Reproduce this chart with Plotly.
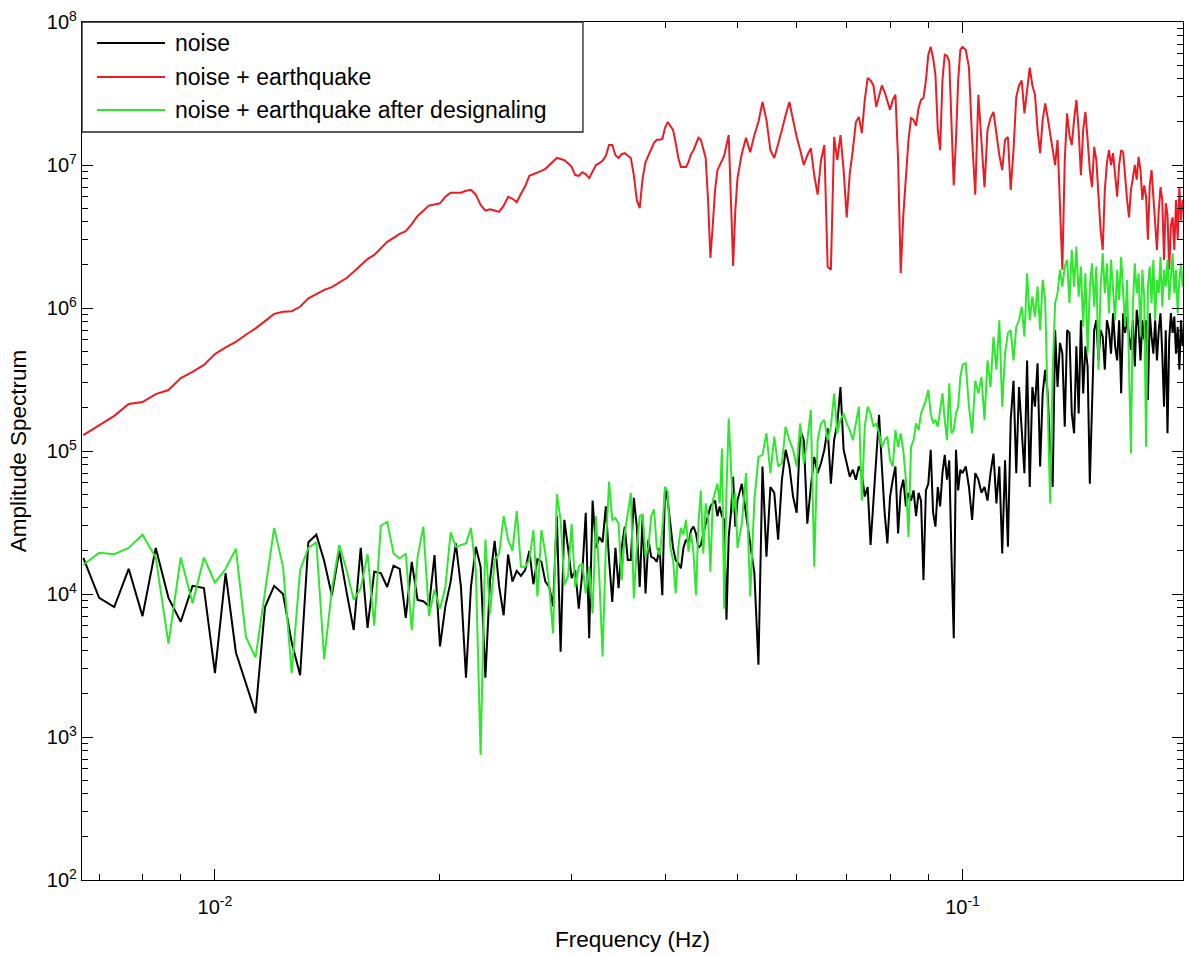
import numpy as np
import plotly.graph_objects as go

# Frequency grid: f = k / 3000 Hz (denser sampling kept at low frequency)
freq_index = np.concatenate([np.arange(20, 151), np.arange(152, 301, 2), np.arange(303, 592, 3)])
freq_hz = freq_index / 3000.0

noise = [
    # k = 20..150
    1.79e4, 9.4e3, 8.1e3, 1.5e4, 7.0e3, 2.1e4, 9.4e3, 6.4e3, 1.14e4, 1.1e4,
    2.8e3, 1.4e4, 3.9e3, 2.4e3, 1.47e3, 8.1e3, 1.14e4, 1.0e4, 4.6e3, 2.7e3,
    2.3e4, 2.6e4, 1.7e4, 9.8e3, 2.0e4, 1.03e4, 5.6e3, 2.1e4, 5.8e3, 1.43e4,
    1.4e4, 1.12e4, 1.58e4, 1.5e4, 6.8e3, 1.68e4, 9.1e3, 8.9e3, 8.2e3, 1.87e4,
    4.3e3, 8.2e3, 1.22e4, 2.26e4, 1.12e4, 2.6e3, 1.12e4, 2.14e4, 1.55e4, 2.6e3,
    1.25e4, 2.35e4, 1.12e4, 7.1e3, 1.89e4, 1.22e4, 1.45e4, 1.34e4, 1.47e4, 2.0e4,
    1.17e4, 1.75e4, 1.68e4, 1.22e4, 1.12e4, 8.2e3, 3.5e4, 3.95e3, 3.3e4, 2.1e4,
    1.29e4, 1.47e4, 7.9e3, 1.4e4, 3.7e4, 4.9e3, 4.5e4, 2.1e4, 2.5e4, 2.3e4,
    4.1e4, 1.73e4, 8.8e3, 2.1e4, 1.1e4, 2.1e4, 2.96e4, 1.73e4, 1.73e4, 4.7e4,
    2.96e4, 1.12e4, 3.5e4, 1.01e4, 2.4e4, 1.82e4, 1.78e4, 1.68e4, 2.1e4, 9.8e3,
    5.6e4, 4.5e4, 3.1e4, 2.1e4, 1.73e4, 1.64e4, 1.51e4, 2.1e4, 2.4e4, 2.26e4,
    2.8e4, 2.96e4, 2.65e4, 2.1e4, 2.2e4, 2.7e4, 3.1e4, 3.5e4, 4.1e4, 4.3e4,
    4.5e4, 3.5e4, 4.1e4, 3.5e4, 3.3e4, 6.6e3, 2.5e4, 3.7e4, 6.6e4, 2.96e4, 4.5e4,
    # k = 152..300 step 2
    5.9e4, 3.7e4, 2.4e4, 1.4e4, 3.2e3, 7.8e4, 1.82e4, 5.6e4, 5.1e4, 2.4e4,
    6.3e4, 1.02e5, 7.8e4, 4.8e4, 3.7e4, 1.4e5, 1.19e5, 3.1e4, 5.6e4, 9.1e4,
    7.0e4, 8.2e4, 1.02e5, 1.44e5, 5.9e4, 1.19e5, 1.56e5, 2.8e5, 1.02e5, 8.2e4,
    6.6e4, 7.4e4, 6.3e4, 7.8e4, 7.0e4, 4.8e4, 5.6e4, 2.2e4, 4.5e4, 7.8e4,
    1.79e5, 7.8e4, 3.7e4, 2.26e4, 4.8e4, 6.3e4, 7.8e4, 2.65e4, 5.3e4, 6.3e4,
    4.1e4, 5.1e4, 4.5e4, 5.3e4, 3.5e4, 5.1e4, 4.5e4, 1.25e4, 5.3e4, 5.9e4,
    1.02e5, 3.7e4, 2.96e4, 5.6e4, 4.1e4, 7.0e4, 9.4e4, 6.3e4, 8.6e4, 1.82e4,
    4.9e3, 1.02e5, 5.3e4, 7.4e4, 7.0e4,
    # k = 303..591 step 3
    7.8e4, 5.6e4, 3.3e4, 7.0e4, 6.3e4, 5.1e4, 5.6e4, 4.5e4, 7.0e4, 9.6e4,
    4.3e4, 7.8e4, 1.92e4, 8.6e4, 2.14e4, 1.65e5, 3.1e5, 7.0e4, 2.8e5, 1.26e5,
    7.0e4, 4.3e5, 5.6e4, 2.8e5, 2.04e5, 4.1e5, 7.8e4, 2.53e5, 3.7e5, 2.53e5,
    9.6e4, 5.6e4, 7.0e5, 2.8e5, 5.7e5, 4.8e5, 1.48e5, 7.0e5, 6.7e5, 1.83e5,
    1.33e5, 5.4e5, 1.83e5, 8.2e5, 2.53e5, 5.4e5, 3.9e5, 5.9e4, 2.53e5, 7.0e5,
    8.2e5, 4.3e5, 7.0e5, 6.3e5, 3.7e5, 8.2e5, 7.0e5, 4.8e5, 9.2e5, 5.4e5,
    4.3e5, 8.2e5, 2.53e5, 9.2e5, 6.7e5, 8.7e5, 6.3e5, 5.1e5, 8.2e5, 3.9e5,
    9.7e5, 7.4e5, 4.3e5, 8.2e5, 6.0e5, 8.2e5, 2.27e5, 9.2e5, 6.3e5, 4.8e5,
    8.2e5, 4.3e5, 7.0e5, 9.2e5, 4.8e5, 2.04e5, 7.0e5, 1.33e5, 6.0e5, 9.2e5,
    6.7e5, 8.7e5, 4.8e5, 7.4e5, 3.7e5, 8.2e5, 5.4e5,
]

noise_earthquake = [
    # k = 20..150
    1.29e5, 1.52e5, 1.76e5, 2.13e5, 2.2e5, 2.5e5, 2.67e5, 3.24e5, 3.57e5, 4.0e5,
    4.76e5, 5.3e5, 5.8e5, 6.5e5, 7.2e5, 8.1e5, 9.1e5, 9.4e5, 9.5e5, 1.02e6,
    1.17e6, 1.25e6, 1.34e6, 1.40e6, 1.50e6, 1.62e6, 1.79e6, 2.0e6, 2.2e6, 2.35e6,
    2.6e6, 2.9e6, 3.09e6, 3.3e6, 3.45e6, 3.86e6, 4.4e6, 4.8e6, 5.2e6, 5.3e6,
    5.4e6, 6.0e6, 6.4e6, 6.4e6, 6.4e6, 6.6e6, 6.7e6, 6.2e6, 5.25e6, 4.8e6,
    4.9e6, 4.8e6, 4.7e6, 5.2e6, 6.0e6, 5.8e6, 5.5e6, 6.3e6, 7.1e6, 8.4e6,
    8.6e6, 8.8e6, 9.1e6, 9.4e6, 1.0e7, 1.07e7, 1.12e7, 1.1e7, 1.08e7, 1.03e7,
    9.7e6, 8.5e6, 8.4e6, 8.9e6, 8.6e6, 8.1e6, 9.1e6, 1.0e7, 1.03e7, 1.07e7,
    1.16e7, 1.38e7, 1.38e7, 1.17e7, 1.12e7, 1.19e7, 1.21e7, 1.17e7, 1.12e7, 8.5e6,
    5.7e6, 5.0e6, 8.1e6, 1.05e7, 1.17e7, 1.31e7, 1.43e7, 1.5e7, 1.5e7, 1.52e7,
    1.82e7, 2.0e7, 1.88e7, 1.76e7, 1.43e7, 1.12e7, 9.7e6, 9.7e6, 9.7e6, 1.05e7,
    1.19e7, 1.27e7, 1.43e7, 1.55e7, 1.5e7, 1.27e7, 1.12e7, 5.7e6, 2.24e6, 3.8e6,
    6.7e6, 9.2e6, 1.0e7, 1.08e7, 1.16e7, 1.38e7, 1.62e7, 5.7e6, 1.97e6, 4.8e6, 8.1e6,
    # k = 152..300 step 2
    1.2e7, 1.55e7, 1.23e7, 1.62e7, 2.0e7, 2.76e7, 2.07e7, 1.27e7, 1.12e7, 1.38e7,
    1.76e7, 2.24e7, 2.76e7, 2.07e7, 1.57e7, 1.27e7, 1.0e7, 1.17e7, 1.31e7, 8.5e6,
    6.2e6, 1.08e7, 1.38e7, 1.94e6, 1.85e6, 1.57e7, 1.08e7, 1.62e7, 9.2e6, 4.3e6,
    8.8e6, 1.27e7, 2.0e7, 2.17e7, 1.67e7, 2.85e7, 4.06e7, 3.9e7, 3.6e7, 2.55e7,
    3.1e7, 3.6e7, 3.24e7, 2.85e7, 2.43e7, 2.85e7, 3.1e7, 1.08e7, 1.75e6, 4.5e6,
    8.5e6, 1.5e7, 2.13e7, 2.07e7, 1.88e7, 2.5e7, 2.85e7, 2.94e7, 3.9e7, 5.9e7,
    6.7e7, 5.6e7, 4.26e7, 1.76e7, 1.27e7, 3.9e7, 5.9e7, 5.8e7, 5.25e7, 1.76e7,
    7.2e6, 1.5e7, 3.9e7, 6.4e7, 6.7e7,
    # k = 303..591 step 3
    6.4e7, 4.8e7, 1.5e7, 6.2e6, 3.1e7, 1.5e7, 7.0e6, 1.76e7, 2.13e7, 2.35e7,
    1.62e7, 1.17e7, 9.2e6, 1.5e7, 1.57e7, 6.7e6, 1.27e7, 3.0e7, 3.6e7, 3.9e7,
    2.3e7, 3.3e7, 4.8e7, 3.6e7, 3.1e7, 1.76e7, 1.21e7, 2.07e7, 2.7e7, 2.13e7,
    1.62e7, 1.27e7, 1.0e7, 1.5e7, 5.7e6, 1.85e6, 1.08e7, 2.3e7, 1.62e7, 1.38e7,
    2.07e7, 2.85e7, 1.76e7, 8.5e6, 1.76e7, 2.35e7, 1.5e7, 9.2e6, 7.0e6, 1.34e7,
    1.08e7, 5.7e6, 3.5e6, 2.55e6, 6.7e6, 1.03e7, 1.27e7, 1.0e7, 1.21e7, 8.5e6,
    6.0e6, 1.0e7, 1.27e7, 1.23e7, 7.9e6, 5.7e6, 4.3e6, 6.7e6, 8.1e6, 1.0e7,
    7.9e6, 1.14e7, 9.2e6, 5.7e6, 7.2e6, 6.0e6, 3.0e6, 7.2e6, 9.2e6, 6.2e6,
    4.3e6, 2.55e6, 4.8e6, 7.0e6, 5.7e6, 2.17e6, 5.4e6, 4.5e6, 1.85e6, 3.8e6,
    4.3e6, 2.55e6, 5.7e6, 3.0e6, 7.0e6, 4.1e6, 5.7e6,
]

noise_earthquake_designaled = [
    # k = 20..150
    1.6e4, 1.94e4, 1.9e4, 2.1e4, 2.6e4, 1.8e4, 4.5e3, 1.8e4, 8.6e3, 1.8e4,
    1.2e4, 1.5e4, 2.07e4, 5.0e3, 3.6e3, 1.07e4, 2.9e4, 1.55e4, 2.8e3, 1.47e4,
    2.1e4, 2.3e4, 3.5e3, 1.07e4, 2.2e4, 1.47e4, 9.1e3, 1.1e4, 1.9e4, 6.0e3,
    3.0e4, 3.2e4, 1.92e4, 1.77e4, 1.92e4, 5.6e3, 1.82e4, 2.96e4, 7.0e3, 1.07e4,
    7.9e3, 1.12e4, 2.7e4, 2.14e4, 2.2e4, 2.26e4, 2.9e4, 1.47e4, 7.5e2, 2.4e4,
    7.3e3, 1.73e4, 1.92e4, 3.5e4, 2.4e4, 2.0e4, 3.8e4, 1.55e4, 1.55e4, 1.73e4,
    2.8e4, 9.6e3, 2.8e4, 1.92e4, 1.12e4, 5.3e3, 5.0e4, 3.3e4, 1.16e4, 1.32e4,
    3.1e4, 1.12e4, 1.55e4, 1.64e4, 1.01e4, 1.55e4, 7.3e3, 3.5e4, 1.32e4, 3.65e3,
    2.1e4, 6.1e4, 3.3e4, 3.4e4, 3.1e4, 1.25e4, 2.65e4, 3.7e4, 5.1e4, 9.3e3,
    2.1e4, 3.5e4, 3.6e4, 1.82e4, 2.1e4, 3.5e4, 3.9e4, 2.1e4, 1.87e4, 2.8e4,
    5.6e4, 5.2e4, 2.1e4, 1.73e4, 1.01e4, 2.1e4, 2.9e4, 2.6e4, 3.3e4, 1.98e4,
    2.65e4, 1.92e4, 9.8e3, 3.1e4, 5.3e4, 1.92e4, 4.3e4, 3.5e4, 1.43e4, 4.5e4,
    5.1e4, 5.9e4, 4.3e4, 1.04e5, 7.9e3, 5.3e4, 1.69e5, 8.6e4, 3.7e4, 5.1e4, 2.1e4,
    # k = 152..300 step 2
    3.1e4, 7.0e4, 9.6e3, 4.5e4, 9.1e4, 9.4e4, 1.33e5, 7.0e4, 1.26e5, 7.8e4,
    8.2e4, 1.48e5, 1.19e5, 1.02e5, 7.8e4, 1.56e5, 8.2e4, 1.19e5, 1.94e5, 1.55e4,
    1.19e5, 1.56e5, 1.65e5, 1.19e5, 1.48e5, 2.53e5, 1.33e5, 1.65e5, 1.83e5, 1.56e5,
    1.4e5, 1.19e5, 1.56e5, 2.04e5, 4.5e4, 1.48e5, 2.04e5, 1.83e5, 1.48e5, 1.56e5,
    1.33e5, 1.07e5, 1.19e5, 1.26e5, 8.6e4, 7.8e4, 1.4e5, 1.07e5, 1.33e5, 1.0e5,
    6.3e4, 2.5e4, 1.07e5, 1.19e5, 1.56e5, 1.4e5, 1.83e5, 2.04e5, 2.27e5, 2.67e5,
    1.83e5, 1.56e5, 1.65e5, 1.48e5, 2.04e5, 2.53e5, 1.65e5, 1.19e5, 2.97e5, 1.33e5,
    1.4e5, 1.83e5, 2.04e5, 3.3e5, 4.0e5,
    # k = 303..591 step 3
    4.1e5, 2.04e5, 1.33e5, 3.1e5, 2.53e5, 3.3e5, 1.65e5, 4.3e5, 2.8e5, 6.3e5,
    3.7e5, 8.2e5, 2.04e5, 4.8e5, 6.7e5, 7.0e5, 4.3e5, 7.4e5, 8.2e5, 1.02e6,
    6.3e5, 1.75e6, 8.2e5, 1.2e6, 8.7e5, 1.41e6, 7.0e5, 1.57e6, 1.14e6, 2.04e5,
    4.3e4, 3.7e5, 1.08e6, 1.27e6, 1.85e6, 1.41e6, 1.95e6, 2.17e6, 1.08e6, 2.55e6,
    1.41e6, 2.69e6, 1.2e6, 1.95e6, 7.4e5, 1.75e6, 4.8e5, 1.41e6, 2.05e6, 1.02e6,
    1.95e6, 3.7e5, 1.41e6, 2.41e6, 1.27e6, 2.05e6, 9.2e5, 2.17e6, 1.41e6, 8.2e5,
    1.85e6, 1.14e6, 2.28e6, 1.2e6, 7.4e5, 1.57e6, 4.8e5, 9.6e4, 1.08e6, 2.05e6,
    1.27e6, 1.75e6, 6.3e5, 1.85e6, 1.2e6, 1.07e5, 1.41e6, 1.95e6, 1.08e6, 2.17e6,
    8.2e5, 1.57e6, 1.27e6, 2.28e6, 1.02e6, 1.85e6, 1.41e6, 2.17e6, 1.14e6, 1.75e6,
    2.41e6, 1.27e6, 1.85e6, 9.2e5, 1.57e6, 2.05e6, 1.41e6,
]

series_names = ["noise", "noise + earthquake", "noise + earthquake after designaling"]
series_colors = ["#000000", "#ec1c24", "#2ee82e"]

x_tick_vals = [1e-2, 1e-1]
x_tick_text = ["10<sup>-2</sup>", "10<sup>-1</sup>"]
y_tick_vals = [1e2, 1e3, 1e4, 1e5, 1e6, 1e7, 1e8]
y_tick_text = ["10<sup>%d</sup>" % e for e in range(2, 9)]

assert len(noise) == len(freq_hz)
assert len(noise_earthquake) == len(freq_hz)
assert len(noise_earthquake_designaled) == len(freq_hz)

x_minor = [m * 10.0 ** e for e in (-3, -2, -1) for m in range(2, 10)]
y_minor = [m * 10.0 ** e for e in range(2, 8) for m in range(2, 10)]

fig = go.Figure()
for name, vals, col in zip(series_names,
                           [noise, noise_earthquake, noise_earthquake_designaled],
                           series_colors):
    fig.add_trace(go.Scatter(x=freq_hz, y=vals, mode="lines", name=name,
                             line=dict(color=col, width=2), showlegend=False))

font_family = "Liberation Sans, Arial, Helvetica, sans-serif"
axis_common = dict(
    type="log", showgrid=False, zeroline=False, showline=True,
    linecolor="black", linewidth=1.3, mirror="ticks",
    ticks="inside", ticklen=11, tickwidth=1, tickcolor="black",
    tickfont=dict(family=font_family, size=20, color="black"),
)

fig.update_xaxes(
    **axis_common,
    range=[np.log10(0.00664), np.log10(0.1972)],
    tickmode="array", tickvals=x_tick_vals, ticktext=x_tick_text,
    ticklabelstandoff=9,
    minor=dict(ticks="inside", ticklen=6, tickwidth=1, tickcolor="black",
               tickmode="array", tickvals=x_minor, showgrid=False),
    title=dict(text="Frequency (Hz)", font=dict(family=font_family, size=22.5, color="black"),
               standoff=14),
)
fig.update_yaxes(
    **axis_common,
    range=[2, 8],
    tickmode="array", tickvals=y_tick_vals, ticktext=y_tick_text,
    minor=dict(ticks="inside", ticklen=6, tickwidth=1, tickcolor="black",
               tickmode="array", tickvals=y_minor, showgrid=False),
    title=dict(text="Amplitude Spectrum", font=dict(family=font_family, size=22.5, color="black"),
               standoff=13),
)

# Legend drawn as a boxed key in the upper-left corner of the axes
legend_rows_y = [0.9755, 0.9359, 0.8974]
shapes = [dict(type="rect", xref="paper", yref="paper", x0=0, x1=0.455, y0=0.8718, y1=1.0,
               line=dict(color="#222222", width=1.3), fillcolor="white", layer="above")]
annotations = []
for name, col, yy in zip(series_names, series_colors, legend_rows_y):
    shapes.append(dict(type="line", xref="paper", yref="paper", x0=0.0136, x1=0.0754,
                       y0=yy, y1=yy, line=dict(color=col, width=2), layer="above"))
    annotations.append(dict(text=name, xref="paper", yref="paper", x=0.0822, y=yy,
                            xanchor="left", yanchor="middle", showarrow=False,
                            font=dict(family=font_family, size=23, color="black")))

fig.update_layout(
    width=1185, height=955,
    margin=dict(l=82, r=2, t=22, b=75),
    paper_bgcolor="white", plot_bgcolor="white",
    font=dict(family=font_family, color="black"),
    showlegend=False,
    shapes=shapes,
    annotations=annotations,
)

fig.write_html("out.html", config={"displayModeBar": False})
